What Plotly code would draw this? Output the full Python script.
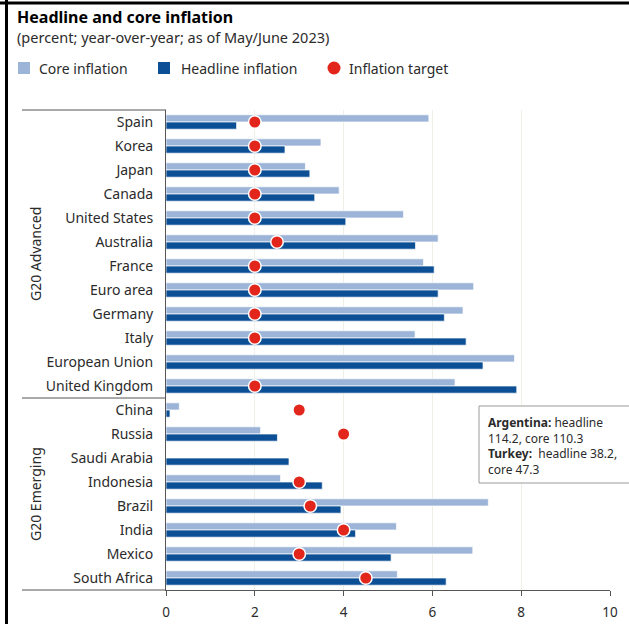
import plotly.graph_objects as go

countries = ["Spain", "Korea", "Japan", "Canada", "United States", "Australia", "France",
             "Euro area", "Germany", "Italy", "European Union", "United Kingdom",
             "China", "Russia", "Saudi Arabia", "Indonesia", "Brazil", "India", "Mexico",
             "South Africa"]
core = [5.92, 3.49, 3.14, 3.90, 5.35, 6.13, 5.80, 6.93, 6.69, 5.61, 7.85, 6.51,
        0.30, 2.13, None, 2.58, 7.26, 5.19, 6.91, 5.21]
headline = [1.59, 2.68, 3.24, 3.35, 4.05, 5.62, 6.04, 6.13, 6.27, 6.76, 7.14, 7.90,
            0.09, 2.51, 2.77, 3.52, 3.94, 4.27, 5.07, 6.31]
target = [2, 2, 2, 2, 2, 2.5, 2, 2, 2, 2, None, 2,
          3, 4, None, 3, 3.25, 4, 3, 4.5]
x_ticks = [0, 2, 4, 6, 8, 10]
groups = ["G20 Advanced", "G20 Emerging"]

LIGHT = "#9bb4d7"
DARK = "#0c4f95"
RED = "#e2261c"
FONT = "Noto Sans"
TXT = "#2b2b2b"

W, H = 629, 624
L, R, T, B = 166, 610, 110, 590


def px(xp):
    return (xp - L) / (R - L)


def py(yp):
    return (B - yp) / (B - T)


fig = go.Figure()
fig.add_trace(go.Bar(y=countries, x=core, orientation="h", name="Core inflation",
                     marker=dict(color=LIGHT, line=dict(color="rgba(255,255,255,0.7)", width=1))))
fig.add_trace(go.Bar(y=countries, x=headline, orientation="h", name="Headline inflation",
                     marker=dict(color=DARK, line=dict(color="rgba(255,255,255,0.7)", width=1))))
fig.add_trace(go.Scatter(y=countries, x=target, mode="markers", name="Inflation target",
                         marker=dict(color=RED, size=12.5, line=dict(color="white", width=1.5))))

shapes = []
# frame lines
shapes.append(dict(type="line", xref="paper", yref="paper", x0=px(0), x1=px(W + 5),
                   y0=py(3), y1=py(3), line=dict(color="black", width=3)))
shapes.append(dict(type="line", xref="paper", yref="paper", x0=px(6.5), x1=px(6.5),
                   y0=py(0), y1=py(H + 5), line=dict(color="black", width=3)))
# group separator lines
for yy in [T, 398, B]:
    shapes.append(dict(type="line", xref="paper", yref="paper", x0=px(22), x1=px(L),
                       y0=py(yy), y1=py(yy), line=dict(color="#555555", width=1)))
# annotation box
shapes.append(dict(type="rect", xref="paper", yref="paper", x0=px(479), x1=px(W + 10),
                   y0=py(406), y1=py(483), fillcolor="white",
                   line=dict(color="#9a9a9a", width=1)))
# manual legend symbols
shapes.append(dict(type="rect", xref="paper", yref="paper", x0=px(18), x1=px(30),
                   y0=py(62), y1=py(74), fillcolor=LIGHT, line=dict(width=0)))
shapes.append(dict(type="rect", xref="paper", yref="paper", x0=px(158), x1=px(170),
                   y0=py(62), y1=py(74), fillcolor=DARK, line=dict(width=0)))
shapes.append(dict(type="circle", xref="paper", yref="paper", x0=px(327.5), x1=px(340.5),
                   y0=py(61.5), y1=py(74.5), fillcolor=RED, line=dict(width=0)))

annotations = [
    dict(text="<b>Headline and core inflation</b>", xref="paper", yref="paper",
         x=px(15), y=py(17), xanchor="left", yanchor="middle", showarrow=False,
         font=dict(size=16, color="black", family=FONT)),
    dict(text="(percent; year-over-year; as of May/June 2023)", xref="paper", yref="paper",
         x=px(15), y=py(37), xanchor="left", yanchor="middle", showarrow=False,
         font=dict(size=14.5, color=TXT, family=FONT)),
    dict(text="Core inflation", xref="paper", yref="paper", x=px(37), y=py(68),
         xanchor="left", yanchor="middle", showarrow=False,
         font=dict(size=14, color=TXT, family=FONT)),
    dict(text="Headline inflation", xref="paper", yref="paper", x=px(179), y=py(68),
         xanchor="left", yanchor="middle", showarrow=False,
         font=dict(size=14, color=TXT, family=FONT)),
    dict(text="Inflation target", xref="paper", yref="paper", x=px(347), y=py(68),
         xanchor="left", yanchor="middle", showarrow=False,
         font=dict(size=14, color=TXT, family=FONT)),
    dict(text=groups[0], xref="paper", yref="paper", x=px(35), y=py(254), textangle=-90,
         xanchor="center", yanchor="middle", showarrow=False,
         font=dict(size=14, color=TXT, family=FONT)),
    dict(text=groups[1], xref="paper", yref="paper", x=px(35), y=py(494), textangle=-90,
         xanchor="center", yanchor="middle", showarrow=False,
         font=dict(size=14, color=TXT, family=FONT)),
    dict(text="<b>Argentina:</b> headline<br>114.2, core 110.3<br><b>Turkey:</b>  headline 38.2,<br>core 47.3",
         xref="paper", yref="paper", x=px(486), y=py(412), xanchor="left", yanchor="top",
         align="left", showarrow=False,
         font=dict(size=12, color=TXT, family=FONT)),
]

fig.update_layout(
    width=W, height=H,
    margin=dict(l=L, r=W - R, t=T, b=H - B, pad=0, autoexpand=False),
    paper_bgcolor="white", plot_bgcolor="white",
    barmode="group", bargap=0.4, bargroupgap=0,
    showlegend=False,
    shapes=shapes, annotations=annotations,
    font=dict(family=FONT, size=14, color=TXT),
    xaxis=dict(range=[0, 10], tickvals=x_ticks, ticktext=[str(v) for v in x_ticks],
               showgrid=True, gridcolor="#efefe6", gridwidth=1, zeroline=False,
               showline=True, linecolor="#555555", linewidth=1,
               ticks="outside", ticklen=5, tickcolor="#555555", automargin=False,
               ticklabelstandoff=5, tickfont=dict(size=13.5, color=TXT)),
    yaxis=dict(type="category", categoryorder="array", categoryarray=countries,
               range=[len(countries) - 0.5, -0.5], showgrid=False, zeroline=False,
               showline=True, linecolor="#555555", linewidth=1, ticks="", automargin=False,
               ticklabelstandoff=9, tickfont=dict(size=14, color=TXT)),
)

fig.write_html("out.html")
